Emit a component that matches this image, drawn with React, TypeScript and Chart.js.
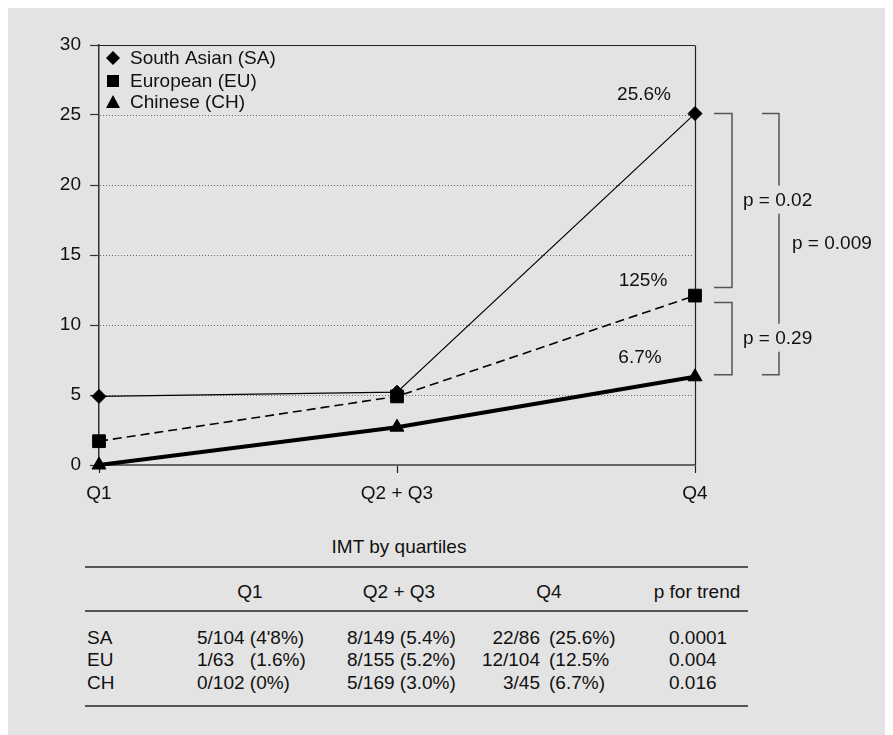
import React, { useEffect, useRef } from 'react';
import { Chart, registerables } from 'chart.js';

Chart.register(...registerables);

// ---------- data ----------
const categories = ['Q1', 'Q2 + Q3', 'Q4'];
const saValues = [4.9, 5.2, 25.1];
const euValues = [1.7, 4.9, 12.1];
const chValues = [0, 2.7, 6.3];
const yTicks = [0, 5, 10, 15, 20, 25, 30];
const seriesNames = ['South Asian (SA)', 'European (EU)', 'Chinese (CH)'];
const q4Labels = ['25.6%', '125%', '6.7%'];
const pLabels = ['p = 0.02', 'p = 0.29', 'p = 0.009'];

const tableTitle = 'IMT by quartiles';
const tableHeaders = ['Q1', 'Q2 + Q3', 'Q4', 'p for trend'];
const rowLabels = ['SA', 'EU', 'CH'];
const q1Cells = ["5/104 (4'8%)", '1/63   (1.6%)', '0/102 (0%)'];
const q23Cells = ['8/149 (5.4%)', '8/155 (5.2%)', '5/169 (3.0%)'];
const q4Fractions = ['22/86', '12/104', '3/45'];
const q4Percents = ['(25.6%)', '(12.5%', '(6.7%)'];
const pTrend = ['0.0001', '0.004', '0.016'];

// ---------- styles ----------
const FONT = '"Liberation Sans", Arial, Helvetica, sans-serif';
const FS = 19;
const BG = '#e3e3e3';
const INK = '#111';
const W = 885;
const H = 727;
const CH_H = 515;

const decorPlugin = {
  id: 'decor',
  beforeDatasetsDraw(chart: any) {
    const { ctx, chartArea: a, scales } = chart;
    const x = scales.x;
    const y = scales.y;
    ctx.save();
    ctx.strokeStyle = '#666';
    ctx.lineWidth = 1;
    ctx.setLineDash([1, 2]);
    const minV = yTicks[0];
    const maxV = yTicks[yTicks.length - 1];
    for (const v of yTicks) {
      if (v === minV || v === maxV) continue;
      const py = Math.round(y.getPixelForValue(v)) + 0.5;
      ctx.beginPath();
      ctx.moveTo(a.left + 1, py);
      ctx.lineTo(a.right - 3, py);
      ctx.stroke();
    }
    ctx.setLineDash([]);
    ctx.strokeStyle = '#222';
    ctx.lineWidth = 1.2;
    const top = Math.round(y.getPixelForValue(maxV)) + 0.5;
    ctx.beginPath();
    ctx.moveTo(a.left, top);
    ctx.lineTo(a.right, top);
    ctx.stroke();
    const rx = Math.round(x.getPixelForValue(categories.length - 1)) + 0.5;
    ctx.beginPath();
    ctx.moveTo(rx, top);
    ctx.lineTo(rx, a.bottom);
    ctx.stroke();
    ctx.restore();
  },
  afterDraw(chart: any) {
    const { ctx, chartArea: a, scales } = chart;
    const x = scales.x;
    const y = scales.y;
    ctx.save();
    ctx.font = `${FS}px ${FONT}`;
    ctx.fillStyle = INK;
    ctx.textBaseline = 'middle';

    // legend
    const lx = a.left + 14;
    const rows = [a.top + 13, a.top + 36, a.top + 57];
    ctx.fillStyle = '#000';
    ctx.beginPath();
    ctx.moveTo(lx, rows[0] - 7);
    ctx.lineTo(lx + 7, rows[0]);
    ctx.lineTo(lx, rows[0] + 7);
    ctx.lineTo(lx - 7, rows[0]);
    ctx.closePath();
    ctx.fill();
    ctx.fillRect(lx - 6, rows[1] - 6, 12, 12);
    ctx.beginPath();
    ctx.moveTo(lx, rows[2] - 7);
    ctx.lineTo(lx + 7, rows[2] + 6);
    ctx.lineTo(lx - 7, rows[2] + 6);
    ctx.closePath();
    ctx.fill();
    ctx.fillStyle = INK;
    ctx.textAlign = 'left';
    seriesNames.forEach((n, i) => ctx.fillText(n, a.left + 31, rows[i] + 1));

    // labels above Q4 points
    const last = categories.length - 1;
    const xq4 = x.getPixelForValue(last);
    const ySA = y.getPixelForValue(saValues[last]);
    const yEU = y.getPixelForValue(euValues[last]);
    const yCH = y.getPixelForValue(chValues[last]);
    ctx.textAlign = 'center';
    ctx.fillText(q4Labels[0], xq4 - 51, ySA - 19);
    ctx.fillText(q4Labels[1], xq4 - 52, yEU - 15);
    ctx.fillText(q4Labels[2], xq4 - 55, yCH - 19);

    // brackets
    ctx.strokeStyle = '#555';
    ctx.lineWidth = 1.5;
    const bracket = (x0: number, x1: number, t: number, b: number) => {
      ctx.beginPath();
      ctx.moveTo(x0, t);
      ctx.lineTo(x1, t);
      ctx.lineTo(x1, b);
      ctx.lineTo(x0, b);
      ctx.stroke();
    };
    const b1t = ySA, b1b = yEU - 8;
    const b2t = yEU + 7, b2b = yCH - 2;
    bracket(xq4 + 19, xq4 + 37, b1t, b1b);
    bracket(xq4 + 19, xq4 + 37, b2t, b2b);
    bracket(xq4 + 67, xq4 + 84, b1t, b2b);

    ctx.textAlign = 'left';
    const textWithBg = (s: string, tx: number, ty: number) => {
      const w = ctx.measureText(s).width;
      ctx.fillStyle = BG;
      ctx.fillRect(tx - 2, ty - 15, w + 4, 28);
      ctx.fillStyle = INK;
      ctx.fillText(s, tx, ty);
    };
    textWithBg(pLabels[0], xq4 + 48, (b1t + b1b) / 2);
    textWithBg(pLabels[1], xq4 + 48, (b2t + b2b) / 2);
    textWithBg(pLabels[2], xq4 + 97, (b1t + b2b) / 2);
    ctx.restore();
  },
};

function ChartCanvas() {
  const ref = useRef<HTMLCanvasElement | null>(null);
  useEffect(() => {
    if (!ref.current) return;
    const chart = new Chart(ref.current, {
      type: 'line',
      data: {
        labels: categories,
        datasets: [
          {
            label: seriesNames[0],
            data: saValues,
            borderColor: '#000',
            borderWidth: 1.2,
            pointStyle: 'rectRot',
            pointRadius: 7,
            pointBackgroundColor: '#000',
            pointBorderColor: '#000',
            pointBorderWidth: 1,
            clip: false,
            order: 1,
          },
          {
            label: seriesNames[1],
            data: euValues,
            borderColor: '#000',
            borderWidth: 1.6,
            borderDash: [9, 5],
            pointStyle: 'rect',
            pointRadius: 9,
            pointBackgroundColor: '#000',
            pointBorderColor: '#000',
            pointBorderWidth: 1,
            clip: false,
            order: 2,
          },
          {
            label: seriesNames[2],
            data: chValues,
            borderColor: '#000',
            borderWidth: 4,
            pointStyle: 'triangle',
            pointRadius: 8,
            pointBackgroundColor: '#000',
            pointBorderColor: '#000',
            pointBorderWidth: 1,
            clip: false,
            order: 3,
          },
        ] as any,
      },
      options: {
        responsive: false,
        animation: false,
        layout: { padding: { left: 0, top: 37, right: 198, bottom: 0 } },
        plugins: { legend: { display: false }, tooltip: { enabled: false } },
        elements: { line: { tension: 0 } },
        scales: {
          x: {
            type: 'category',
            offset: false,
            grid: {
              drawOnChartArea: false,
              drawTicks: true,
              tickLength: 8,
              tickColor: '#222',
              tickWidth: 1.2,
            },
            border: { display: true, color: '#666', width: 2 },
            ticks: {
              color: INK,
              padding: 9,
              maxRotation: 0,
              autoSkip: false,
              font: { family: FONT, size: FS },
            },
            afterFit: (s: any) => {
              s.height = CH_H - 457;
            },
          },
          y: {
            min: yTicks[0],
            max: yTicks[yTicks.length - 1],
            grid: {
              drawOnChartArea: false,
              drawTicks: true,
              tickLength: 9,
              tickColor: '#333',
              tickWidth: 1.2,
            },
            border: { display: true, color: '#333', width: 1.5 },
            ticks: {
              stepSize: 5,
              color: INK,
              padding: 9,
              font: { family: FONT, size: FS },
            },
            afterFit: (s: any) => {
              s.width = 91;
            },
          },
        },
      } as any,
      plugins: [decorPlugin],
    });
    return () => chart.destroy();
  }, []);
  return (
    <canvas
      ref={ref}
      width={W}
      height={CH_H}
      style={{ position: 'absolute', left: 0, top: 0, width: W, height: CH_H }}
    />
  );
}

type TProps = { x: number; y: number; align?: 'left' | 'center' | 'right'; children: React.ReactNode };
function T({ x, y, align = 'left', children }: TProps) {
  const style: React.CSSProperties = {
    position: 'absolute',
    top: y - 11,
    height: 22,
    lineHeight: '22px',
    whiteSpace: 'pre',
    textAlign: align,
  };
  if (align === 'left') style.left = x;
  else if (align === 'center') {
    style.left = x - 200;
    style.width = 400;
  } else {
    style.left = x - 400;
    style.width = 400;
  }
  return <div style={style}>{children}</div>;
}

function Rule({ y }: { y: number }) {
  return (
    <div style={{ position: 'absolute', left: 77, top: y, width: 663, height: 2, background: '#555' }} />
  );
}

export default function App() {
  const rowY = [630, 652, 675];
  const headerX = [242, 391, 541, 689];
  return (
    <div
      style={{
        position: 'relative',
        width: W,
        height: H,
        background: BG,
        fontFamily: FONT,
        fontSize: FS,
        color: INK,
        overflow: 'hidden',
      }}
    >
      <ChartCanvas />
      <T x={391} y={539} align="center">{tableTitle}</T>
      <Rule y={558} />
      {tableHeaders.map((h, i) => (
        <T key={h} x={headerX[i]} y={584} align="center">{h}</T>
      ))}
      <Rule y={602} />
      {rowLabels.map((r, i) => (
        <React.Fragment key={r}>
          <T x={79} y={rowY[i]}>{r}</T>
          <T x={189} y={rowY[i]}>{q1Cells[i]}</T>
          <T x={339} y={rowY[i]}>{q23Cells[i]}</T>
          <T x={532} y={rowY[i]} align="right">{q4Fractions[i]}</T>
          <T x={541} y={rowY[i]}>{q4Percents[i]}</T>
          <T x={661} y={rowY[i]}>{pTrend[i]}</T>
        </React.Fragment>
      ))}
      <Rule y={697} />
    </div>
  );
}
